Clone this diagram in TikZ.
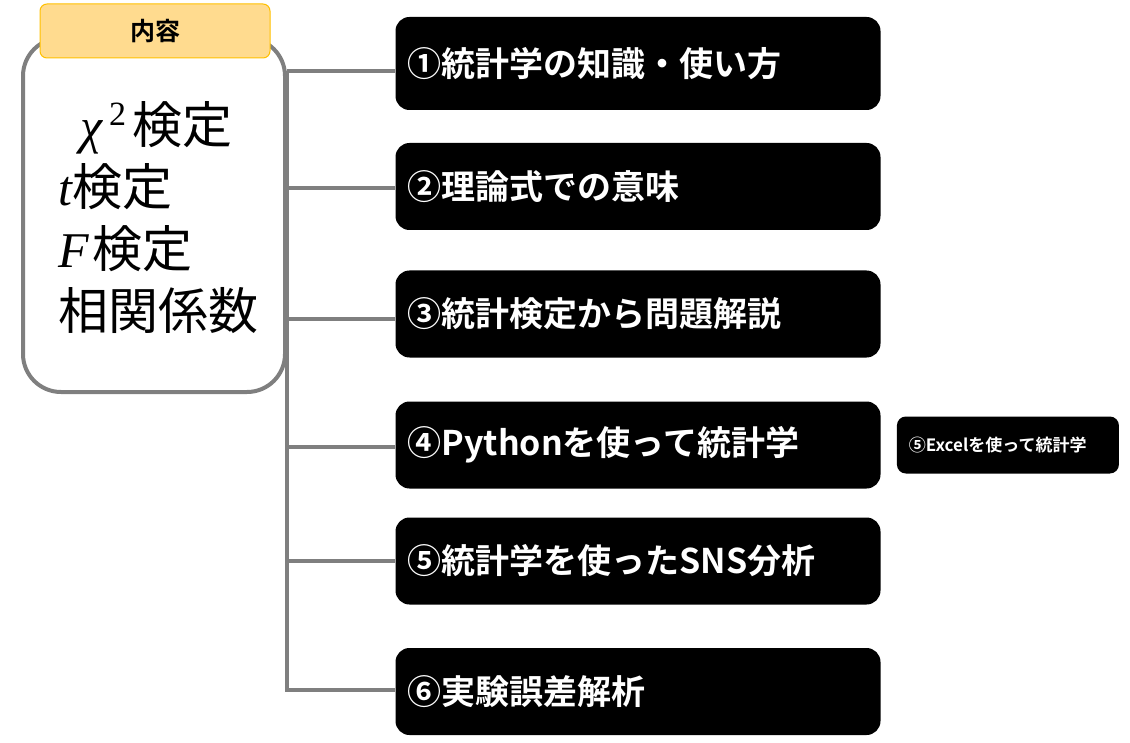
\documentclass[tikz,border=0pt]{standalone}
\usepackage{fontspec}
\setmainfont{Noto Sans CJK JP}[BoldFont=Noto Sans CJK JP Bold]
\newfontfamily\varfont{Liberation Serif}
\usetikzlibrary{positioning}
\definecolor{linegray}{HTML}{7F7F7F}
\definecolor{tabfill}{HTML}{FFDB8F}
\definecolor{tabedge}{HTML}{FFC000}
\newcommand{\var}[1]{{\varfont\itshape #1}}

\begin{document}
\begin{tikzpicture}[x=1pt,y=-1pt,
	leftbox/.style={draw=linegray,line width=4pt,rounded corners=38pt,minimum width=262pt,minimum height=354pt},
	tab/.style={draw=tabedge,line width=1pt,fill=tabfill,rounded corners=7pt,minimum width=230pt,minimum height=54pt,font=\bfseries\fontsize{25}{28}\selectfont},
	item/.style={fill=black,text=white,rounded corners=14pt,minimum width=485pt,minimum height=87pt,text width=461pt,inner xsep=12pt,align=left,font=\bfseries\fontsize{34}{40}\selectfont},
	subitem/.style={fill=black,text=white,rounded corners=9pt,minimum width=222pt,minimum height=57pt,text width=198pt,inner xsep=12pt,align=left,font=\bfseries\fontsize{17}{20}\selectfont},
	branch/.style={draw=linegray,line width=3.5pt}]
	
	\useasboundingbox (0,0) rectangle (1130,743);
	
	% left box with its tab
	\node[leftbox] (naiyou) at (154,215) {};
	\node[tab] (tab) at (155,31) {内容};
	\node[anchor=west,align=left,inner sep=0pt,font=\fontsize{50}{62}\selectfont] (kentei) at (58,218)
	{\hspace*{22pt}\var{χ}\hspace{7pt}\raisebox{18pt}{\varfont\fontsize{34}{34}\selectfont 2}\hspace{6pt}検定\\\var{t}検定\\\var{F}\hspace{4pt}検定\\相関係数};
	
	% items
	\node[item,minimum height=93pt] (i1) at (638,63.5) {①統計学の知識・使い方};
	\node[item] (i2) at (638,186.5) {②理論式での意味};
	\node[item] (i3) at (638,314)   {③統計検定から問題解説};
	\node[item] (i4) at (638,445)   {④Pythonを使って統計学};
	\node[item] (i5) at (638,561)   {⑤統計学を使ったSNS分析};
	\node[item] (i6) at (638,691.5) {⑥実験誤差解析};
	\node[subitem] (e5) [right=16pt of i4] {⑤Excelを使って統計学};
	
	% trunk and branches
	\coordinate (t1) at (287,71);
	\coordinate (t2) at (287,188);
	\coordinate (t3) at (287,319);
	\coordinate (t4) at (287,447);
	\coordinate (t5) at (287,561);
	\coordinate (t6) at (287,690);
	\draw[branch] (t1) -- (t6) -- (t6 -| i6.west);
	\foreach \i in {1,...,5}
	\draw[branch] (t\i) -- (t\i -| i\i.west);
	
\end{tikzpicture}
\end{document}
